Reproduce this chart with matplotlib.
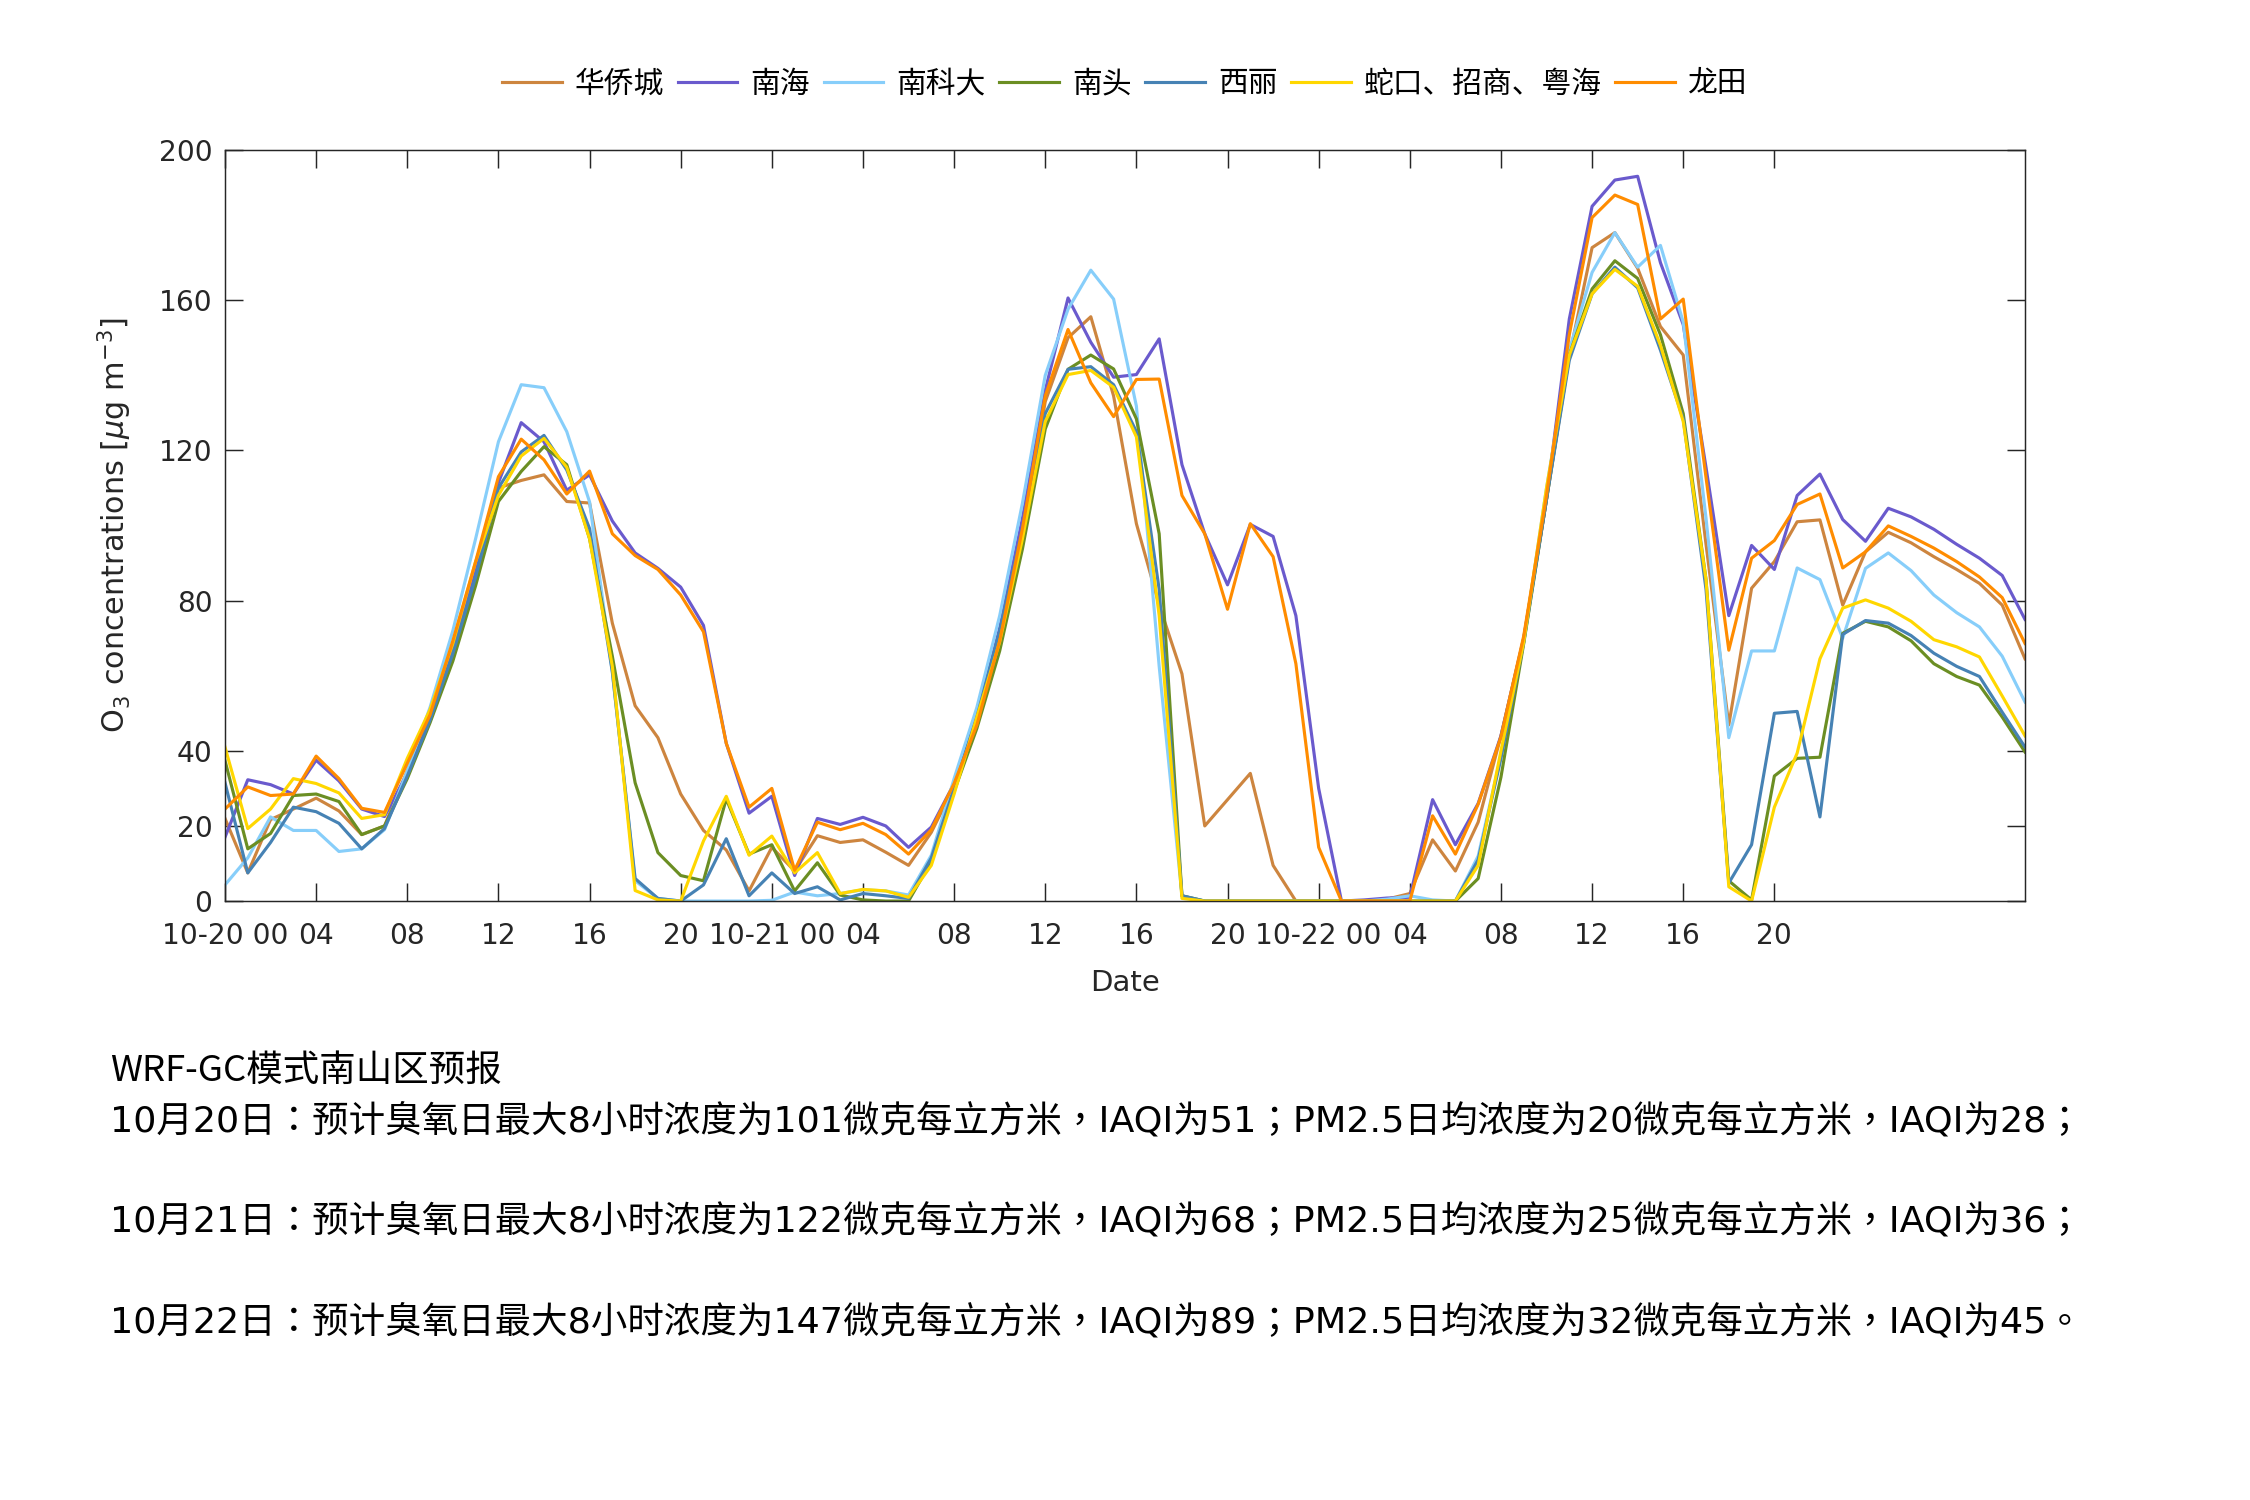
import numpy as np
import matplotlib
matplotlib.use('Agg')
import matplotlib.pyplot as plt

plt.rcParams['font.family'] = ['DejaVu Sans', 'Noto Sans CJK SC']
plt.rcParams['mathtext.fontset'] = 'dejavusans'

# hourly O3 forecast, 10-20 00:00 .. 10-23 07:00
names = ['华侨城', '南海', '南科大', '南头', '西丽', '蛇口、招商、粤海', '龙田']
colors = ['#CD853F', '#6A5ACD', '#87CEFA', '#6B8E23', '#4682B4', '#FFD700', '#FF8C00']

hqc = [22, 7.5, 21.7, 24.5, 27.4, 24, 17.7, 20, 34.6, 49, 65, 85.6, 110, 112, 113.5, 106.4, 106, 74, 52, 43.5,
       28.5, 18.8, 13.6, 2.7, 14.3, 8, 17.4, 15.6, 16.3, 13, 9.5, 18.3, 30.6, 47.5, 69, 98, 133, 150, 155.6, 134.5,
       100.5, 78.8, 60.5, 20, 27, 34, 9.5, 0, 0, 0, 0, 0.5, 2, 16.3, 8, 21, 44, 70, 107, 145,
       174, 178, 168.5, 153, 145.4, 95, 46.9, 83.3, 90.4, 101, 101.5, 78.8, 93, 98.2, 95.4, 91.7, 88.3, 84.6, 78.8, 64.5]
nh = [17, 32.3, 31, 28.5, 37.5, 32, 24.5, 22.5, 34, 49.6, 68, 88, 111.4, 127.4, 122.3, 109.4, 113.5, 101.2, 92.7, 88.6,
      83.6, 73.4, 42, 23.4, 27.9, 6.8, 22, 20.4, 22.3, 20, 14.3, 19.7, 31.3, 49, 72.7, 102, 136, 160.6, 148.8, 139.5,
      140.2, 149.7, 116.2, 97.8, 84.2, 100.3, 97.1, 76, 30, 0, 0.3, 0.8, 1, 27, 15, 26, 44, 70, 107, 155,
      185, 192, 193, 170, 153.5, 115.5, 76, 94.7, 88.3, 108, 113.7, 101.6, 95.8, 104.6, 102.3, 99, 95, 91.3, 86.7, 75]
nkd = [4.3, 11.5, 22.4, 18.8, 18.8, 13.2, 13.9, 19, 34.6, 51.6, 72, 96.5, 122.3, 137.5, 136.7, 125, 106.3, 61, 5.4, 0.7,
       0, 0, 0, 0, 0.2, 2.4, 1.4, 2, 3, 2.7, 1.6, 12.2, 32.6, 51.6, 76, 106, 140, 157.6, 168, 160.3,
       131.8, 62.5, 1.4, 0, 0, 0, 0, 0, 0, 0, 0, 0.5, 1.4, 0.3, 0, 12, 38.7, 69, 110, 146.7,
       167.4, 178, 168.8, 174.6, 154.2, 102, 43.5, 66.6, 66.6, 88.7, 85.6, 70, 88.6, 92.7, 88, 81.5, 76.8, 73, 65.2, 53]
nt = [37.4, 13.9, 18, 28.1, 28.5, 26.5, 17.7, 20, 32.6, 47.5, 63.9, 84, 106.4, 114.4, 121, 116.2, 96.5, 65.2, 31.5, 12.9,
      6.8, 5.4, 27.2, 12.5, 15, 2.7, 10.2, 1.6, 0.3, 0, 0, 10.6, 29.2, 46, 66.6, 93.8, 125.7, 141.6, 145.4, 141.7,
      128.4, 97.8, 1.4, 0, 0, 0, 0, 0, 0, 0, 0, 0, 0, 0, 0, 6, 33, 68.6, 107, 145.4,
      163, 170.5, 165.8, 150.8, 129.8, 85.6, 5.4, 0.3, 33.3, 38, 38.3, 71.3, 74.5, 73, 69.3, 63.2, 59.8, 57.5, 49, 39.7]
xl = [31.5, 7.5, 15.6, 25, 23.8, 20.7, 13.9, 19.3, 33.3, 48.2, 65.9, 86.3, 110, 119.6, 124, 114.8, 99.2, 61, 6, 0.7,
      0, 4.3, 16.6, 1.4, 7.5, 2, 3.8, 0.3, 2, 1.4, 0.7, 11.5, 30, 49, 72, 99.2, 129.8, 141.6, 142.3, 137.5,
      125, 83, 1.4, 0, 0, 0, 0, 0, 0, 0, 0, 0, 0, 0, 0, 11, 38, 69, 107, 144,
      161.7, 168.8, 163.3, 146.7, 128.4, 83, 4.8, 15, 50, 50.5, 22.4, 71, 74.7, 74, 70.7, 66, 62.5, 59.8, 50.3, 41]
sk = [41, 19.3, 24.5, 32.6, 31.3, 28.8, 22, 23, 38, 51, 68.6, 90.4, 108, 118.5, 123.2, 115.5, 96.5, 62.5, 2.8, 0.3,
      0, 16, 27.9, 12.2, 17.3, 7.5, 12.9, 2, 3.1, 2.7, 1, 9.5, 28.5, 49, 69, 96.5, 127.7, 140.2, 141.3, 136.8,
      123.6, 76, 0.7, 0, 0, 0, 0, 0, 0, 0, 0, 0, 0, 0, 0, 9.5, 40, 69, 110, 145.4,
      161.7, 168.2, 163.7, 148, 127.7, 85.6, 3.8, 0, 25, 39.4, 64.5, 78, 80.2, 78, 74.5, 69.6, 67.7, 65, 54.6, 44]
lt = [24.5, 30.4, 28.1, 28.5, 38.6, 32.6, 24.7, 23.6, 36.7, 49.6, 69.3, 90.4, 113, 123, 117.5, 108.4, 114.5, 97.8, 92, 88.3,
      81.5, 71.7, 42, 25, 30, 8.2, 21, 19, 20.7, 17.7, 12.5, 19, 31.3, 46.9, 69.3, 99.2, 134.5, 152.2, 138, 129,
      138.9, 139, 108, 97.8, 77.7, 100.5, 91.7, 63.2, 14.3, 0, 0, 0, 0, 22.7, 12.5, 25.8, 43.7, 70.6, 108, 150.8,
      182, 188, 185.5, 155, 160.3, 112.8, 66.8, 91.3, 96, 105.6, 108.4, 88.7, 93, 99.9, 97.1, 94, 90.4, 86.3, 80.8, 68.6]
series = [hqc, nh, nkd, nt, xl, sk, lt]

tick_hours = [0, 4, 8, 12, 16, 20, 24, 28, 32, 36, 40, 44, 48, 52, 56, 60, 64, 68]
tick_labels = ['10-20 00', '04', '08', '12', '16', '20', '10-21 00', '04', '08', '12', '16', '20',
               '10-22 00', '04', '08', '12', '16', '20']
y_ticks = [0, 20, 40, 80, 120, 160, 200]

title = 'WRF-GC模式南山区预报'
forecast = ['10月20日：预计臭氧日最大8小时浓度为101微克每立方米，IAQI为51；PM2.5日均浓度为20微克每立方米，IAQI为28；',
            '10月21日：预计臭氧日最大8小时浓度为122微克每立方米，IAQI为68；PM2.5日均浓度为25微克每立方米，IAQI为36；',
            '10月22日：预计臭氧日最大8小时浓度为147微克每立方米，IAQI为89；PM2.5日均浓度为32微克每立方米，IAQI为45。']
text_y = [0.2527, 0.186, 0.1187]

cjk = ['Noto Sans CJK SC', 'DejaVu Sans']
mixed = ['DejaVu Sans', 'Noto Sans CJK TC']
dark = '#262626'

fig = plt.figure(figsize=(15, 10), dpi=150)
ax = fig.add_axes([0.1, 0.3993, 0.8, 0.5007])

hours = np.arange(len(hqc))
for name, vals, c in zip(names, series, colors):
    ax.plot(hours, vals, color=c, lw=1.5, label=name)

ax.set_xlim(0, 79)
ax.set_ylim(0, 200)
ax.set_xticks(tick_hours)
ax.set_xticklabels(tick_labels)
ax.set_yticks(y_ticks)
ax.tick_params(direction='in', length=8.6, width=0.7, top=True, right=True,
               labelsize=13.5, colors=dark)
ax.tick_params(axis='x', pad=10)
ax.tick_params(axis='y', pad=6)
for sp in ax.spines.values():
    sp.set_linewidth(0.7)
    sp.set_color(dark)
ax.set_xlabel('Date', fontsize=14, color=dark, labelpad=9)
ax.set_ylabel(r'O$_3$ concentrations [$\mu$g m$^{-3}$]', fontsize=14.5, color=dark, labelpad=12)

fig.legend(loc='center', bbox_to_anchor=(0.5, 0.944), ncol=7, frameon=False,
           prop={'family': cjk, 'size': 14.3}, handlelength=2.0, handletextpad=0.45,
           columnspacing=0.45)

fig.text(0.049, 0.286, title, fontsize=17.5, family=cjk, color='black', va='center', ha='left')
for s, y in zip(forecast, text_y):
    fig.text(0.049, y, s, fontsize=17.5, family=mixed, color='black', va='center', ha='left')

fig.savefig('out.png', dpi=150)
